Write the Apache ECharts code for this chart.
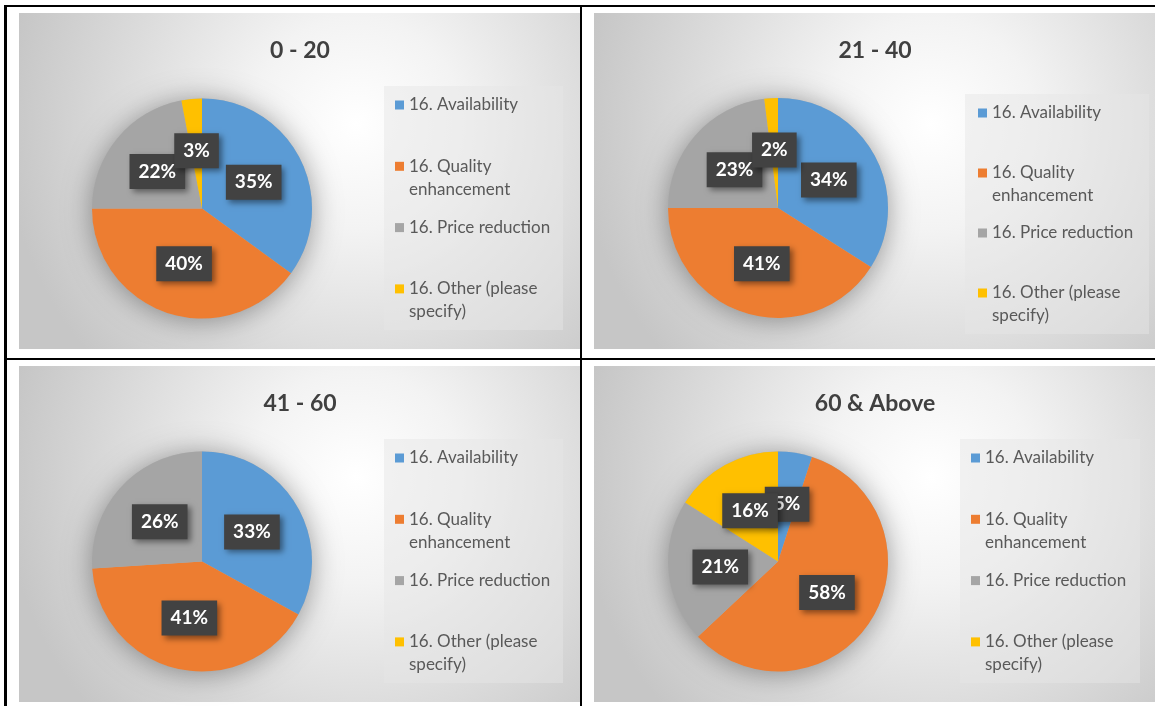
<!DOCTYPE html>
<html>
<head>
<meta charset="utf-8">
<script src="https://cdn.jsdelivr.net/npm/echarts@6.0.0/dist/echarts.min.js"></script>
<style>
  html, body { margin: 0; padding: 0; background: #ffffff; }
  #chart { width: 1155px; height: 706px; }
</style>
</head>
<body>
<div id="chart"></div>
<script>
// ---- data ----
const groups = ['0 - 20', '21 - 40', '41 - 60', '60 & Above'];
const categories = ['16. Availability', '16. Quality enhancement', '16. Price reduction', '16. Other (please specify)'];
const values0to20 = [35, 40, 22, 3];
const values21to40 = [34, 41, 23, 2];
const values41to60 = [33, 41, 26, 0];
const values60up = [5, 58, 21, 16];
const legendLabels = ['16. Availability', '\n16. Quality\nenhancement', '16. Price reduction', '\n16. Other (please\nspecify)'];
const colors = ['#5B9BD5', '#ED7D31', '#A5A5A5', '#FFC000'];

const allValues = [values0to20, values21to40, values41to60, values60up];

// ---- layout (positions / sizes) ----
const panels = [
  { box: [19, 13, 562, 336], center: [202, 208.5], title: [300, 50.5], legend: [395, 93.5], legendGap: 15.3, legendBox: [384, 86, 179, 244] },
  { box: [594, 13, 562, 336], center: [778, 208], title: [875, 50.5], legend: [978, 101.5], legendGap: 14, legendBox: [965, 94, 184, 240] },
  { box: [19, 366, 562, 336], center: [202, 561.5], title: [300, 403.5], legend: [395, 446.5], legendGap: 15.3, legendBox: [384, 439, 179, 244] },
  { box: [594, 366, 562, 336], center: [778, 561.5], title: [875, 403.5], legend: [971, 446.5], legendGap: 15.3, legendBox: [960, 439, 180, 244] }
];

const FONT = 'Lato, "Open Sans", sans-serif';
const legendMap = {};
categories.forEach((c, i) => { legendMap[c] = legendLabels[i]; });

const graphics = [];
const titles = [];
const legends = [];
const series = [];

panels.forEach((p, i) => {
  graphics.push({
    type: 'rect', z: -10, silent: true,
    shape: { x: p.box[0], y: p.box[1], width: p.box[2], height: p.box[3] },
    style: {
      fill: { type: 'radial', x: 0.6, y: 0.33, r: 1.05,
        colorStops: [ { offset: 0, color: '#ffffff' }, { offset: 0.3, color: '#f3f3f3' }, { offset: 1, color: '#c6c6c6' } ] },
      stroke: null
    }
  });
  graphics.push({
    type: 'rect', z: -9, silent: true,
    shape: { x: p.legendBox[0], y: p.legendBox[1], width: p.legendBox[2], height: p.legendBox[3] },
    style: { fill: 'rgba(229,229,229,0.48)' }
  });
  titles.push({
    text: groups[i], left: p.title[0], top: p.title[1], textAlign: 'center', textVerticalAlign: 'middle', padding: 0,
    textStyle: { fontFamily: FONT, fontWeight: 'bold', fontSize: 23, color: '#404040' }
  });
  legends.push({
    orient: 'vertical', left: p.legend[0], top: p.legend[1], padding: 0,
    itemWidth: 9, itemHeight: 9, itemGap: p.legendGap, icon: 'rect',
    data: categories, selectedMode: false,
    formatter: name => legendMap[name],
    textStyle: { fontFamily: FONT, fontSize: 17, lineHeight: 23, color: '#595959' }
  });
  // soft shadow under the pie
  series.push({
    type: 'pie', silent: true, center: p.center, radius: 110, z: 1, animation: false,
    data: [{ value: 1, name: 'pie-shadow' }],
    itemStyle: { color: '#b0b0b0', shadowBlur: 28, shadowColor: 'rgba(0,0,0,0.38)', shadowOffsetY: 2 },
    label: { show: false }, labelLine: { show: false }, emphasis: { disabled: true }
  });
  series.push({
    type: 'pie', name: groups[i], center: p.center, radius: 110, z: 2, animation: false,
    startAngle: 90, clockwise: true,
    avoidLabelOverlap: false,
    labelLayout: { hideOverlap: false },
    emphasis: { disabled: true },
    data: categories.map((c, k) => ({
      name: c, value: allValues[i][k],
      label: { show: allValues[i][k] > 0 }
    })),
    itemStyle: { borderWidth: 0 },
    label: {
      position: 'inside',
      formatter: d => d.value + '%',
      fontFamily: FONT, fontWeight: 'bold', fontSize: 19, lineHeight: 22, color: '#ffffff',
      backgroundColor: '#424242', padding: [7, 9, 6, 9],
      shadowColor: 'rgba(0,0,0,0.45)', shadowBlur: 6, shadowOffsetX: 3, shadowOffsetY: 3
    },
    labelLine: { show: false }
  });
});

// table lines
const lineStyle = { stroke: '#000000', lineWidth: 2 };
graphics.push({ type: 'line', z: 100, silent: true, shape: { x1: 4, y1: 6, x2: 1155, y2: 6 }, style: lineStyle });
graphics.push({ type: 'line', z: 100, silent: true, shape: { x1: 5.5, y1: 5, x2: 5.5, y2: 706 }, style: { stroke: '#000', lineWidth: 3 } });
graphics.push({ type: 'line', z: 100, silent: true, shape: { x1: 581, y1: 5, x2: 581, y2: 706 }, style: lineStyle });
graphics.push({ type: 'line', z: 100, silent: true, shape: { x1: 4, y1: 359, x2: 1155, y2: 359 }, style: lineStyle });

const chart = echarts.init(document.getElementById('chart'), null, { renderer: 'canvas' });
chart.setOption({
  animation: false,
  color: colors,
  title: titles,
  legend: legends,
  graphic: { elements: graphics },
  series: series
});
</script>
</body>
</html>
